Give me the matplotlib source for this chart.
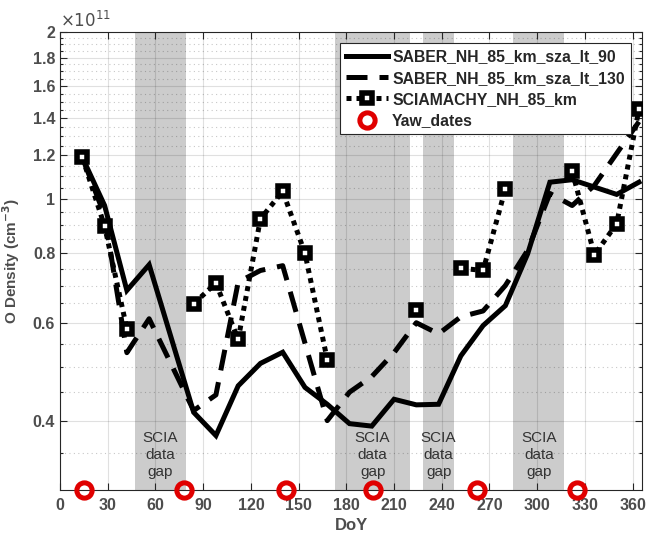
import numpy as np
import matplotlib
matplotlib.use("Agg")
import matplotlib.pyplot as plt
from matplotlib.ticker import FixedLocator, NullFormatter

# SCIAMACHY (nan = no data inside the gaps)
scia_days = [14, 28, 42, 56, 84, 98, 112, 126, 140, 154, 168, 196, 224, 238, 252, 266, 280, 308, 322, 336, 350, 364]
scia_vals = [1.19, 0.895, 0.585, np.nan, 0.649, 0.707, 0.560, 0.923, 1.034, 0.80, 0.515, np.nan,
             0.633, np.nan, 0.752, 0.745, 1.045, np.nan, 1.124, 0.795, 0.904, 1.452]

# SABER sza < 90
saber90_days = [14, 28, 42, 56, 84, 98, 112, 126, 140, 154, 168, 182, 196, 210, 224, 238,
                252, 266, 280, 294, 308, 322, 350, 364]
saber90_vals = [1.19, 0.975, 0.686, 0.763, 0.414, 0.376, 0.462, 0.507, 0.531, 0.459, 0.428, 0.395,
                0.391, 0.437, 0.427, 0.428, 0.523, 0.593, 0.644, 0.798, 1.074, 1.085, 1.021, 1.074]

# SABER sza < 130
saber130_days = [14, 28, 42, 56, 84, 98, 112, 126, 140, 168, 182, 196, 210, 224, 238, 252,
                 266, 280, 294, 308, 322, 336, 350, 364]
saber130_vals = [1.19, 0.935, 0.53, 0.61, 0.417, 0.445, 0.71, 0.745, 0.76, 0.40, 0.45, 0.48,
                 0.53, 0.60, 0.573, 0.615, 0.63, 0.70, 0.81, 1.025, 0.975, 1.06, 1.21, 1.38]

yaw_days = [15, 78, 142, 197, 262, 325]
yaw_vals = [0.3, 0.3, 0.3, 0.3, 0.3, 0.3]

gap_start = [47, 173, 228, 285]
gap_end = [79, 220, 248, 317]

xticks = list(range(0, 361, 30))
yticks = [0.4, 0.6, 0.8, 1, 1.2, 1.4, 1.6, 1.8, 2]
ytick_labels = ["0.4", "0.6", "0.8", "1", "1.2", "1.4", "1.6", "1.8", "2"]

plt.rcParams["font.family"] = ["Liberation Sans", "DejaVu Sans"]
TICK = "#4d4d4d"

fig = plt.figure(figsize=(6.46, 5.35), dpi=100)
ax = fig.add_axes([0.093, 0.084, 0.901, 0.856])
ax.set_yscale("log")

for s, e in zip(gap_start, gap_end):
    ax.axvspan(s, e, color="#cccccc", lw=0, zorder=1)
    ax.text((s + e) / 2, 0.347, "SCIA\ndata\ngap", ha="center", va="center",
            fontsize=11, color="#333333", linespacing=1.25, zorder=1.2)

lw = 3.6
ax.plot(saber90_days, saber90_vals, color="black", lw=lw, solid_joinstyle="miter",
        label="SABER_NH_85_km_sza_lt_90", zorder=3)
ax.plot(saber130_days, saber130_vals, color="black", lw=lw, linestyle=(0, (4.2, 2.4)),
        dash_capstyle="butt", label="SABER_NH_85_km_sza_lt_130", zorder=3)
ax.plot(scia_days, scia_vals, color="black", lw=lw, linestyle=(0, (1, 1)),
        dash_capstyle="butt", marker="s", markersize=7.6, markerfacecolor="white",
        markeredgecolor="black", markeredgewidth=4.0, label="SCIAMACHY_NH_85_km", zorder=4)
ax.plot(yaw_days, yaw_vals, linestyle="none", marker="o", markersize=11,
        markerfacecolor="none", markeredgecolor="#e00000", markeredgewidth=3.6,
        label="Yaw_dates", clip_on=False, zorder=5)

ax.set_xlim(0, 366)
ax.set_ylim(0.3, 2)
ax.set_xticks(xticks)
ax.yaxis.set_major_locator(FixedLocator(yticks))
ax.set_yticklabels(ytick_labels)
minor = [round(v, 2) for v in np.arange(0.35, 2.0, 0.05) if round(v, 2) not in yticks]
ax.yaxis.set_minor_locator(FixedLocator(minor))
ax.yaxis.set_minor_formatter(NullFormatter())

ax.set_axisbelow("line")
ax.grid(True, which="major", axis="both", color="black", alpha=0.12, lw=0.8)
ax.grid(True, which="minor", axis="y", color="black", alpha=0.22, lw=0.8, linestyle=(0, (1, 3)))

ax.tick_params(which="both", direction="in", top=True, right=True, colors="#262626",
               labelcolor=TICK, labelsize=11.5, width=0.8)
ax.tick_params(which="major", length=5)
ax.tick_params(which="minor", length=2.5)
ax.tick_params(axis="x", pad=6)
for lab in ax.get_xticklabels() + ax.get_yticklabels():
    lab.set_fontweight("bold")
for sp in ax.spines.values():
    sp.set_color("#262626")
    sp.set_linewidth(0.8)

ax.set_xlabel("DoY", fontsize=12, fontweight="bold", color=TICK, labelpad=3)
ax.set_ylabel("O Density (cm$^{\\mathbf{-3}}$)", fontsize=11, fontweight="bold", color=TICK, labelpad=8)
ax.text(0.0, 1.004, "$\\times10^{11}$", transform=ax.transAxes, ha="left", va="bottom",
        fontsize=12, color=TICK)

leg = ax.legend(loc="upper right", bbox_to_anchor=(0.981, 0.976), borderaxespad=0,
                fancybox=False, framealpha=1, edgecolor="#262626", handlelength=2.7,
                handletextpad=0.25, labelspacing=0.4, borderpad=0.4,
                prop={"family": "Liberation Sans", "weight": "bold", "size": 11.3})
leg.get_frame().set_linewidth(0.8)
for t in leg.get_texts():
    t.set_color("#262626")

fig.savefig("out.png", dpi=100)
